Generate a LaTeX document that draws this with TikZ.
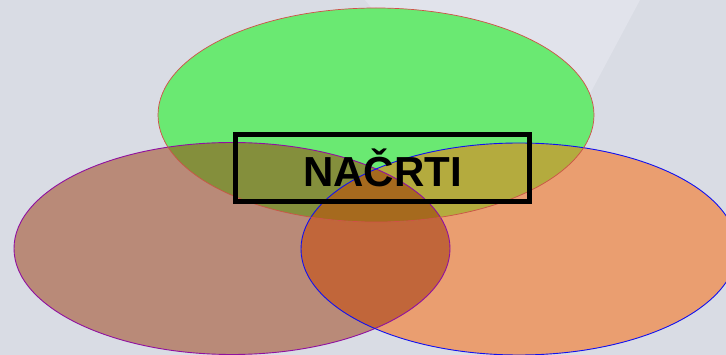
\documentclass[tikz,border=0pt]{standalone}
\usepackage{fontspec}
\setmainfont{Liberation Sans}
\definecolor{bgc}{HTML}{D9DCE4}
\definecolor{bgl}{HTML}{E1E3EB}
\definecolor{cB}{HTML}{B98A78}
\definecolor{cO}{HTML}{EA9E70}
\definecolor{cBO}{HTML}{C1663A}
\definecolor{cG}{HTML}{6AE972}
\definecolor{cGB}{HTML}{848F3C}
\definecolor{cGO}{HTML}{B4AB3E}
\definecolor{cGBO}{HTML}{A66A1E}
\definecolor{lG}{HTML}{D05048}
\definecolor{lB}{HTML}{9010A0}
\definecolor{lO}{HTML}{1010F0}
\tikzset{
  edge/.style={line width=0.9pt},
  titlebox/.style={draw=black,line width=5pt,minimum width=294pt,minimum height=67pt,inner sep=0pt,
    font=\fontsize{42}{48}\selectfont\bfseries,text=black}
}
\begin{document}
\begin{tikzpicture}[x=1pt,y=-1pt]
\useasboundingbox (0,0) rectangle (726,355);
\clip (0,0) rectangle (726,355);
\fill[bgc] (0,0) rectangle (726,355);
\fill[bgl] (365,0) -- (640,0) -- (560,150) -- (480,140) -- cycle;
% shapes
\def\ellB{(232,248.5) ellipse [x radius=218, y radius=106]}
\def\ellO{(519,249) ellipse [x radius=218, y radius=106]}
\def\ellG{(376,115) ellipse [x radius=218, y radius=107]}
\fill[cB] \ellB;
\fill[cO] \ellO;
\begin{scope}
  \clip \ellO;
  \fill[cBO] \ellB;
\end{scope}
\fill[cG] \ellG;
\begin{scope}
  \clip \ellG;
  \fill[cGB] \ellB;
  \fill[cGO] \ellO;
  \clip \ellB;
  \fill[cGBO] \ellO;
\end{scope}
\draw[edge,lB] \ellB;
\draw[edge,lO] \ellO;
\draw[line width=0.7pt,lG] \ellG;
\node[titlebox] (t) at (382.5,168) {NAČRTI};
\end{tikzpicture}
\end{document}
